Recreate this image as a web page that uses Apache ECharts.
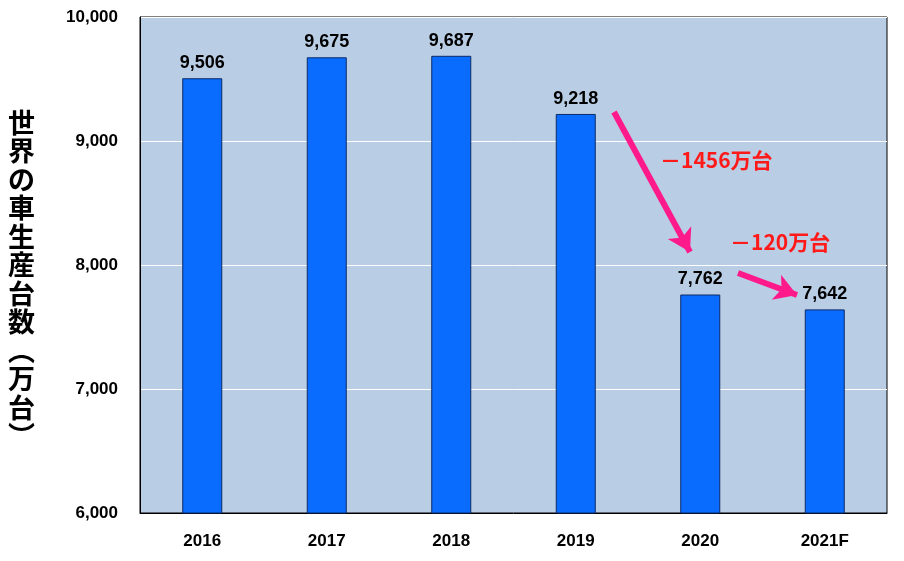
<!DOCTYPE html>
<html>
<head>
<meta charset="utf-8">
<script src="https://cdn.jsdelivr.net/npm/echarts@6/dist/echarts.min.js"></script>
<style>html,body{margin:0;background:#fff}#c{width:904px;height:561px}</style>
</head>
<body>
<div id="c"></div>
<script>
var years = ['2016', '2017', '2018', '2019', '2020', '2021F'];
var production = [9506, 9675, 9687, 9218, 7762, 7642];
var yTicks = [6000, 7000, 8000, 9000, 10000];
var font = '"Liberation Sans Narrow","Liberation Sans",Arial,sans-serif';

echarts.init(document.getElementById('c')).setOption({
    animation: false,
    grid: {left: 140, right: 17, top: 17, bottom: 48, show: true, backgroundColor: '#b9cde5', borderColor: '#000', borderWidth: 1},
    xAxis: {
        type: 'category',
        data: years,
        axisTick: {show: false},
        axisLine: {lineStyle: {color: '#000'}},
        axisLabel: {color: '#000', fontSize: 17, fontWeight: 'bold', fontFamily: font, margin: 20}
    },
    yAxis: {
        type: 'value',
        min: yTicks[0], max: yTicks[yTicks.length - 1], interval: 1000,
        axisLine: {show: true, lineStyle: {color: '#000'}},
        axisTick: {show: false},
        splitLine: {lineStyle: {color: '#fff', width: 1}},
        axisLabel: {color: '#000', fontSize: 17, fontWeight: 'bold', fontFamily: font, margin: 22}
    },
    graphic: [
        {type: 'text', left: 8, top: 108, style: {text: '世\n界\nの\n車\n生\n産\n台\n数\n︵\n万\n台\n︶', fill: '#000', font: 'bold 27px "Noto Sans CJK JP"', lineHeight: 28.5}},
        {type: 'text', left: 660, top: 150, style: {text: '－1456万台', fill: '#ff1a1a', font: 'bold 21px "Noto Sans CJK JP"'}},
        {type: 'text', left: 730, top: 232, style: {text: '－120万台', fill: '#ff1a1a', font: 'bold 21px "Noto Sans CJK JP"'}}
    ],
    series: [{
        type: 'bar',
        data: production,
        barWidth: 40,
        itemStyle: {color: '#0a6cff', borderColor: '#0b2a66', borderWidth: 1},
        label: {
            show: true, position: 'top', distance: 6, color: '#000', fontSize: 18, fontWeight: 'bold', fontFamily: font,
            formatter: function (p) { return p.value.toLocaleString('en-US'); }
        },
        markLine: {
            silent: true,
            symbol: ['none', 'arrow'],
            symbolSize: [20, 22],
            label: {show: false},
            lineStyle: {color: '#ff1a8c', width: 6, type: 'solid'},
            data: [
                [{x: 614, y: 112}, {x: 690, y: 252}],
                [{x: 738, y: 273}, {x: 797, y: 295}]
            ]
        }
    }]
});
</script>
</body>
</html>
